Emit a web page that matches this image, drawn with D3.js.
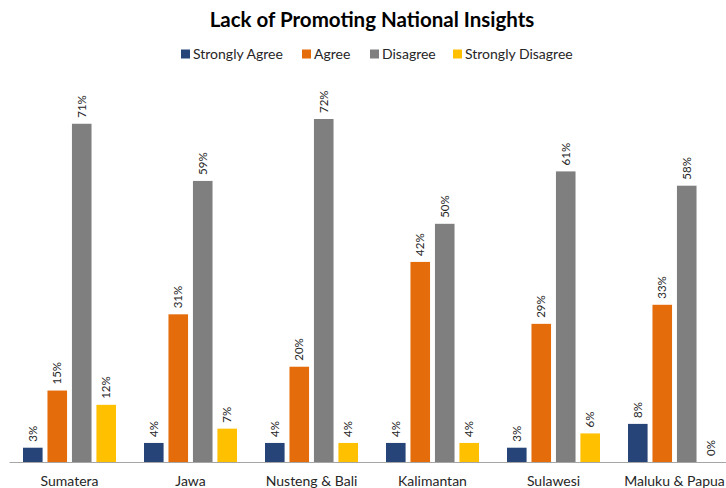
<!DOCTYPE html>
<html>
<head>
<meta charset="utf-8">
<script src="https://cdn.jsdelivr.net/npm/d3@7"></script>
<style>
  html, body { margin: 0; padding: 0; background: #fff; }
  svg { display: block; font-family: Lato, "Open Sans", sans-serif; }
</style>
</head>
<body>
<svg id="chart" width="726" height="488"></svg>
<script>
const categories = ["Sumatera", "Jawa", "Nusteng & Bali", "Kalimantan", "Sulawesi", "Maluku & Papua"];
const seriesNames = ["Strongly Agree", "Agree", "Disagree", "Strongly Disagree"];
const stronglyAgree = [3, 4, 4, 4, 3, 8];
const agree = [15, 31, 20, 42, 29, 33];
const disagree = [71, 59, 72, 50, 61, 58];
const stronglyDisagree = [12, 7, 4, 4, 6, 0];
const seriesColors = ["#264478", "#E46C0A", "#7F7F7F", "#FFC000"];

const seriesValues = [stronglyAgree, agree, disagree, stronglyDisagree];
const rows = categories.map((c, i) => ({
  category: c,
  values: seriesNames.map((s, j) => ({ series: s, value: seriesValues[j][i], color: seriesColors[j] }))
}));

const svg = d3.select("#chart");
const baseline = 462;

const x0 = d3.scaleBand().domain(categories).range([9, 735]).padding(0);
const x1 = d3.scaleBand().domain(seriesNames).range([14, 107]).paddingInner(0.2).paddingOuter(0);
const y = d3.scaleLinear().domain([0, 72]).range([baseline, 119]);

// title
svg.append("text")
  .attr("x", 372).attr("y", 27)
  .attr("text-anchor", "middle")
  .attr("font-size", 20.5).attr("font-weight", "bold").attr("fill", "#000")
  .text("Lack of Promoting National Insights");

// legend
const legendX = [181, 302, 370, 453];
const legend = svg.append("g");
seriesNames.forEach((s, j) => {
  const g = legend.append("g").attr("transform", `translate(${legendX[j]},54)`);
  g.append("rect").attr("x", 0).attr("y", -4.5).attr("width", 9).attr("height", 9).attr("fill", seriesColors[j]);
  g.append("text").attr("x", 12).attr("y", 0).attr("dy", "0.35em")
    .attr("font-size", 14).attr("fill", "#262626").text(s);
});

// bars
const groups = svg.append("g").selectAll("g").data(rows).join("g")
  .attr("transform", d => `translate(${x0(d.category)},0)`);

groups.selectAll("rect").data(d => d.values).join("rect")
  .attr("x", d => x1(d.series))
  .attr("y", d => y(d.value))
  .attr("width", x1.bandwidth())
  .attr("height", d => baseline - y(d.value))
  .attr("fill", d => d.color);

groups.selectAll("text").data(d => d.values).join("text")
  .attr("transform", d => `translate(${x1(d.series) + x1.bandwidth() / 2},${y(d.value) - 6}) rotate(-90)`)
  .attr("dy", "0.35em")
  .attr("text-anchor", "start")
  .attr("font-size", 11.5).attr("fill", "#262626")
  .text(d => d.value + "%");

// axis
const xAxis = d3.axisBottom(x0).tickSize(0).tickPadding(14);
const ax = svg.append("g").attr("transform", `translate(0,${baseline})`).call(xAxis);
ax.select(".domain").attr("stroke", "#A6A6A6").attr("stroke-width", 1);
ax.selectAll(".tick text").attr("font-size", 14).attr("fill", "#262626").attr("font-family", "Lato, 'Open Sans', sans-serif");
</script>
</body>
</html>
